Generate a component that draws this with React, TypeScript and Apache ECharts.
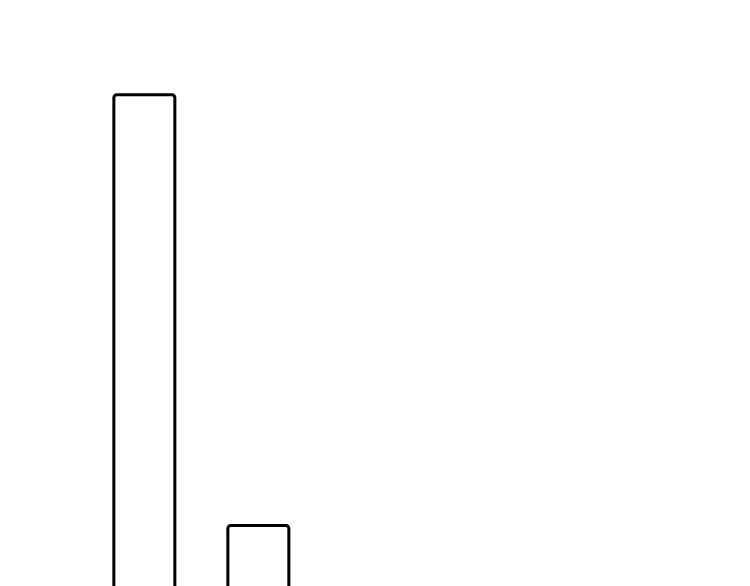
import { useEffect, useRef } from 'react';
import * as echarts from 'echarts';

// 数据
const categories = ['A', 'B'];
const values = [30, 10];

const App: React.FC = () => {
  const chartRef = useRef<HTMLDivElement>(null);

  useEffect(() => {
    if (!chartRef.current) return;
    const chart = echarts.init(chartRef.current, null, { renderer: 'svg' });

    const option = {
      animation: false,
      grid: {
        left: 79.35,
        right: 426.65,
        top: 85.3,
        bottom: 68.65,
      },
      xAxis: {
        type: 'category',
        data: categories,
        show: false,
      },
      yAxis: {
        type: 'value',
        min: 0,
        max: 30,
        show: false,
      },
      series: [
        {
          type: 'bar',
          data: values,
          barWidth: 64,
          itemStyle: {
            color: '#ffffff',
            borderColor: '#000000',
            borderWidth: 3,
            borderRadius: 3,
          },
        },
      ],
    };

    chart.setOption(option);
    return () => {
      chart.dispose();
    };
  }, []);

  return <div ref={chartRef} style={{ width: '734px', height: '800px' }} />;
};

export default App;
